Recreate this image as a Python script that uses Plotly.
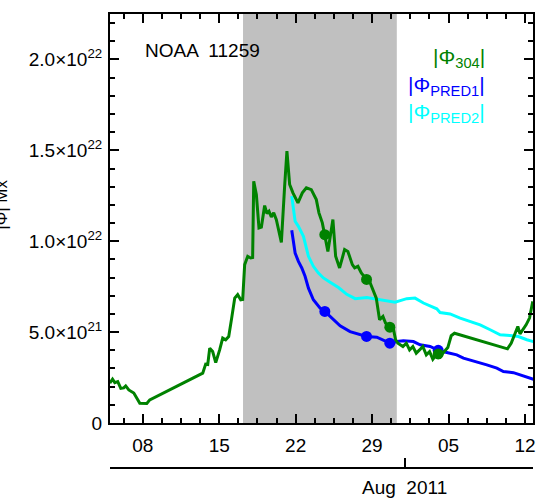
import numpy as np
import pandas as pd
import plotly.graph_objects as go

# times are given as fractional day of July 2011 (32 = Aug 1), values in units of 1e21 Mx
phi304_day = [4.98, 5.23, 5.44, 5.71, 5.99, 6.26, 6.44, 6.72, 7.18, 7.73, 8.37, 8.64,
              13.49, 13.76, 13.95, 14.13, 14.40, 14.68, 15.04, 15.32, 15.59, 15.87, 16.14,
              16.42, 16.69, 16.97, 17.15, 17.33, 17.61, 17.88, 18.06, 18.16, 18.40, 18.64,
              18.86, 19.16, 19.37, 19.56, 19.77, 19.99, 20.23, 20.69, 20.99, 21.20, 21.45,
              21.75, 22.21, 22.61, 22.98, 23.43, 23.89, 24.13, 24.44, 24.67, 24.95, 25.41,
              25.66, 26.02, 26.48, 26.78, 27.19, 27.40, 27.70, 28.01, 28.49, 28.77, 29.07,
              29.38, 29.68, 29.99, 30.23, 30.62, 30.96, 31.15, 31.36, 31.82, 32.13, 32.43,
              32.73, 33.04, 33.34, 33.64, 33.96, 34.26, 34.56, 34.87, 35.05, 35.17, 35.47,
              35.93, 36.24, 36.54, 41.39, 41.73, 42.34, 42.54, 43.10, 43.41, 43.71]
phi304_val = [2.19, 2.41, 2.22, 2.28, 1.91, 1.93, 2.04, 1.82, 1.65, 1.09, 1.07, 1.27,
              2.74, 3.24, 3.22, 4.12, 3.93, 3.32, 4.02, 4.67, 4.58, 4.76, 5.77,
              6.87, 7.06, 6.78, 6.80, 8.71, 9.17, 9.08, 9.10, 13.3, 12.57, 10.73,
              10.78, 11.96, 11.52, 11.65, 11.34, 11.56, 11.19, 9.94, 13.03, 14.96, 13.12,
              12.66, 12.11, 12.66, 12.94, 12.84, 12.29, 11.56, 11.01, 10.36, 9.44, 11.19,
              9.17, 8.53, 9.54, 9.44, 8.71, 8.53, 8.62, 8.25, 7.90, 7.79, 7.33,
              6.87, 5.68, 5.86, 5.50, 5.27, 5.13, 4.58, 4.39, 4.21, 4.39, 4.02,
              4.21, 3.84, 4.02, 4.21, 3.75, 3.93, 3.51, 3.75, 3.80, 3.57, 3.84,
              4.15, 4.80, 4.94, 4.08, 4.39, 5.31, 4.90, 5.40, 5.77, 6.69]

pred1_day = [21.64, 21.95, 22.25, 22.56, 22.86, 23.17, 23.62, 24.24, 24.67, 25.31, 26.07,
             26.98, 27.90, 28.49, 29.43, 30.03, 30.62, 31.26, 31.86, 32.78, 33.39, 34.31,
             35.05, 35.84, 36.75, 37.36, 37.97, 38.59, 39.50, 40.42, 41.02, 41.94, 42.85, 43.77]
pred1_val = [10.6, 9.35, 8.89, 8.53, 8.07, 7.42, 6.78, 6.32, 6.14, 5.77, 5.35,
             5.03, 4.85, 4.76, 4.72, 4.54, 4.39, 4.48, 4.52, 4.48, 4.30, 4.21,
             4.00, 3.88, 3.75, 3.57, 3.47, 3.38, 3.20, 3.02, 2.83, 2.77, 2.59, 2.41]

pred2_day = [21.64, 21.95, 22.25, 22.71, 23.17, 23.62, 24.08, 24.54, 25.15, 25.92, 26.68,
             27.45, 28.51, 29.73, 31.10, 32.17, 32.93, 33.70, 34.92, 35.22, 36.14, 37.06,
             37.97, 38.89, 39.81, 40.72, 41.64, 42.40, 43.17, 43.77]
pred2_val = [12.48, 11.1, 10.82, 10.27, 9.17, 8.62, 8.25, 7.98, 7.74, 7.45, 7.08,
             6.84, 6.90, 6.78, 6.65, 6.84, 6.87, 6.60, 6.28, 6.08, 6.00, 5.77,
             5.58, 5.40, 5.13, 4.85, 4.81, 4.76, 4.58, 4.48]

# comparison points
dot_day = [24.67, 28.49, 30.62, 35.05]
dot_304 = [10.36, 7.90, 5.27, 3.80]
dot_pred1 = [6.14, 4.76, 4.39, 4.00]

shade_start, shade_end = 17.18, 31.26
x_start, x_end = 5.0, 43.73

ytick_vals = [0, 5e21, 1e22, 1.5e22, 2e22]
ytick_text = ["0", "5.0×10<sup>21</sup>", "1.0×10<sup>22</sup>",
              "1.5×10<sup>22</sup>", "2.0×10<sup>22</sup>"]
xtick_days = [8, 15, 22, 29, 36, 43]
xtick_text = ["08", "15", "22", "29", "05", "12"]

GREEN = "rgb(0,130,0)"
BLUE = "rgb(0,0,255)"
CYAN = "rgb(0,255,255)"
FONT = "Liberation Sans, Arial, sans-serif"


def to_time(days):
    return pd.Timestamp("2011-07-01") + pd.to_timedelta(np.array(days, dtype=float) - 1, unit="D")


def to_mx(vals):
    return np.array(vals) * 1e21


fig = go.Figure()
fig.add_trace(go.Scatter(x=to_time(pred2_day), y=to_mx(pred2_val), mode="lines",
                         line=dict(color=CYAN, width=3)))
fig.add_trace(go.Scatter(x=to_time(pred1_day), y=to_mx(pred1_val), mode="lines",
                         line=dict(color=BLUE, width=3)))
fig.add_trace(go.Scatter(x=to_time(dot_day), y=to_mx(dot_pred1), mode="markers",
                         marker=dict(color=BLUE, size=11)))
fig.add_trace(go.Scatter(x=to_time(phi304_day), y=to_mx(phi304_val), mode="lines",
                         line=dict(color=GREEN, width=3)))
fig.add_trace(go.Scatter(x=to_time(dot_day), y=to_mx(dot_304), mode="markers",
                         marker=dict(color=GREEN, size=11)))
# dummy trace so the second (date label) axis is drawn
fig.add_trace(go.Scatter(x=[None], y=[None], xaxis="x2", yaxis="y", showlegend=False))

# shaded interval
fig.add_shape(type="rect", xref="x", yref="y domain",
              x0=to_time([shade_start])[0], x1=to_time([shade_end])[0], y0=0, y1=1,
              fillcolor="#c0c0c0", line=dict(width=0), layer="below")

xrange = list(to_time([x_start, x_end]))
fig.update_layout(
    width=548, height=499,
    margin=dict(l=110, r=15, t=14, b=31),
    paper_bgcolor="white", plot_bgcolor="white",
    showlegend=False,
    font=dict(family=FONT, size=19, color="black"),
    xaxis=dict(type="date", range=xrange, anchor="y",
               tickmode="array", tickvals=list(to_time(xtick_days)), ticktext=xtick_text,
               ticks="inside", ticklen=9, tickwidth=2, tickcolor="black",
               minor=dict(tick0=to_time([8])[0], dtick=1.75 * 86400000,
                          ticks="inside", ticklen=5, tickwidth=2, tickcolor="black"),
               showline=True, linewidth=2, linecolor="black", mirror="ticks",
               showgrid=False, zeroline=False, ticklabelstandoff=4,
               tickfont=dict(size=19)),
    xaxis2=dict(type="date", range=xrange, overlaying="x", anchor="free", position=0,
                side="bottom", tickmode="array", tickvals=list(to_time([32])),
                ticks="inside", ticklen=9, tickwidth=2, tickcolor="black",
                showticklabels=False, showline=True, linewidth=2, linecolor="black",
                showgrid=False, zeroline=False),
    yaxis=dict(domain=[0.0991, 1], range=[0, 2.25e22],
               tickmode="array", tickvals=ytick_vals, ticktext=ytick_text,
               ticks="inside", ticklen=9, tickwidth=2, tickcolor="black",
               minor=dict(dtick=1e21, ticks="inside", ticklen=5, tickwidth=2,
                          tickcolor="black"),
               showline=True, linewidth=2, linecolor="black", mirror="ticks",
               showgrid=False, zeroline=False, ticklabelstandoff=2,
               tickfont=dict(size=19)),
)

ann = [
    dict(text="NOAA  11259", x=0.078, y=0.9207, xanchor="left", yanchor="middle",
         font=dict(size=19)),
    dict(text="|Φ<sub>304</sub>|", x=0.891, y=0.903, xanchor="right", yanchor="middle",
         font=dict(size=21, color=GREEN)),
    dict(text="|Φ<sub>PRED1</sub>|", x=0.891, y=0.841, xanchor="right", yanchor="middle",
         font=dict(size=21, color=BLUE)),
    dict(text="|Φ<sub>PRED2</sub>|", x=0.891, y=0.781, xanchor="right", yanchor="middle",
         font=dict(size=21, color=CYAN)),
    dict(text="Aug  2011", x=to_time([32])[0], xref="x", y=-0.042, yanchor="middle",
         xanchor="center", font=dict(size=19)),
    dict(text="|Φ| Mx", textangle=-90, x=-0.229, y=0.579, xanchor="right",
         yanchor="middle", font=dict(size=17)),
]
for a in ann:
    a.setdefault("xref", "paper")
    a.setdefault("yref", "paper")
    a["showarrow"] = False
    fig.add_annotation(**a)

fig.write_html("out.html", config={"displayModeBar": False},
               post_script="document.body.style.margin='0';")
